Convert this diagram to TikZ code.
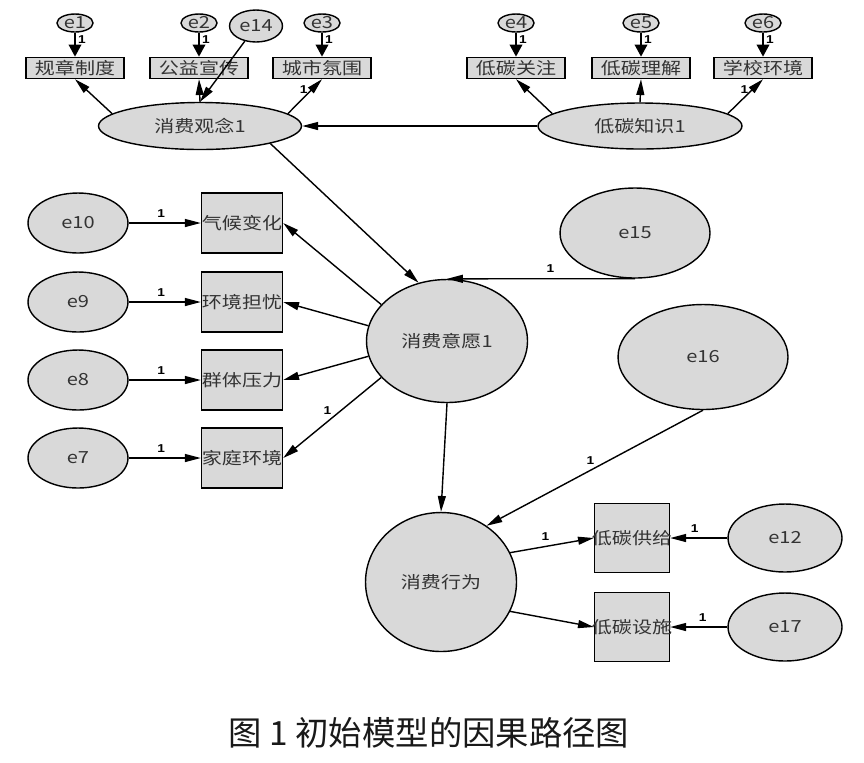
\documentclass[tikz,border=0pt]{standalone}
\usepackage{fontspec}
\newfontfamily\dgfont[FakeStretch=1.2]{Noto Sans CJK SC}
\newfontfamily\numfont[FakeStretch=1.2]{Liberation Sans}
\newfontfamily\capfont{Noto Sans CJK SC}
\usetikzlibrary{shapes.geometric,arrows.meta}

\begin{document}
\begin{tikzpicture}[x=0.02cm, y=-0.02cm,
		base/.style={draw, line width=0.8pt, fill=gray!30, text=black!80, font=\dgfont\fontsize{9.5}{11}\selectfont, inner sep=0pt},
		err/.style={base, ellipse},
		smallerr/.style={err, inner sep=-4pt, minimum width=0.72cm, minimum height=0.36cm},
		latent/.style={base, ellipse},
		obsbox/.style={base, rectangle},
		topbox/.style={obsbox, minimum width=1.96cm, minimum height=0.42cm},
		midbox/.style={obsbox, minimum width=1.62cm, minimum height=1.2cm},
		rbox/.style={obsbox, inner xsep=-2pt, minimum width=1.5cm, minimum height=1.38cm},
		arr/.style={-{Triangle[length=9pt,width=4.5pt]}, line width=0.8pt},
		fatarr/.style={-{Triangle[length=7pt,width=7pt]}, line width=1.6pt},
		lbl/.style={font=\numfont\bfseries\fontsize{6.5}{7}\selectfont, inner sep=1pt}]
	\useasboundingbox (0,0) rectangle (864,762);
	%Konsumkonzept
	\node[smallerr] (e1) at (75,23) {e1};
	\node[smallerr] (e2) at (199,23) {e2};
	\node[smallerr] (e3) at (322,23) {e3};
	\node[err, minimum width=1.06cm, minimum height=0.64cm] (e14) at (256,26) {e14};
	\node[topbox] (gz) at (75,68) {规章制度};
	\node[topbox] (gy) at (199,68) {公益宣传};
	\node[topbox] (cs) at (322,68) {城市氛围};
	\node[latent, minimum width=4.06cm, minimum height=0.94cm] (cons) at (200,126) {消费观念1};
	\draw[fatarr] (e1) -- node[lbl, right, pos=0.3] {1} (gz);
	\draw[fatarr] (e2) -- node[lbl, right, pos=0.3] {1} (gy);
	\draw[fatarr] (e3) -- node[lbl, right, pos=0.3] {1} (cs);
	\draw[arr] (cons.172) -- (gz.south);
	\draw[arr] (cons.north) -- (gy.south);
	\draw[arr] (cons.8) -- node[lbl, left=1pt, pos=0.7] {1} (cs.south);
	\draw[arr] (e14) -- (cons.north);
	%Wissen
	\node[smallerr] (e4) at (516,23) {e4};
	\node[smallerr] (e5) at (641,23) {e5};
	\node[smallerr] (e6) at (763,23) {e6};
	\node[topbox] (gzhu) at (516,68) {低碳关注};
	\node[topbox] (lj) at (641,68) {低碳理解};
	\node[topbox] (xx) at (763,68) {学校环境};
	\node[latent, minimum width=4.08cm, minimum height=0.92cm] (know) at (640,126) {低碳知识1};
	\draw[fatarr] (e4) -- node[lbl, right, pos=0.3] {1} (gzhu);
	\draw[fatarr] (e5) -- node[lbl, right, pos=0.3] {1} (lj);
	\draw[fatarr] (e6) -- node[lbl, right, pos=0.3] {1} (xx);
	\draw[arr] (know.172) -- (gzhu.south);
	\draw[arr] (know.north) -- (lj.south);
	\draw[arr] (know.8) -- node[lbl, left=1pt, pos=0.7] {1} (xx.south);
	\draw[arr] (know.west) -- (cons.east);
	%Absicht
	\node[err, minimum width=2cm, minimum height=1.2cm] (e10) at (78,223) {e10};
	\node[err, minimum width=2cm, minimum height=1.2cm] (e9) at (78,302) {e9};
	\node[err, minimum width=2cm, minimum height=1.2cm] (e8) at (78,380) {e8};
	\node[err, minimum width=2cm, minimum height=1.2cm] (e7) at (78,458) {e7};
	\node[midbox] (qh) at (242,223) {气候变化};
	\node[midbox] (hj) at (242,302) {环境担忧};
	\node[midbox] (qt) at (242,380) {群体压力};
	\node[midbox] (jt) at (242,458) {家庭环境};
	\node[latent, minimum width=3.22cm, minimum height=2.46cm] (int) at (447,341) {消费意愿1};
	\node[err, minimum width=3cm, minimum height=1.8cm] (e15) at (635,233) {e15};
	\draw[arr] (e10) -- node[lbl, above=2pt, pos=0.45] {1} (qh);
	\draw[arr] (e9) -- node[lbl, above=2pt, pos=0.45] {1} (hj);
	\draw[arr] (e8) -- node[lbl, above=2pt, pos=0.45] {1} (qt);
	\draw[arr] (e7) -- node[lbl, above=2pt, pos=0.45] {1} (jt);
	\draw[arr] (int.151) -- (qh.east);
	\draw[arr] (int.169) -- (hj.east);
	\draw[arr] (int.191) -- (qt.east);
	\draw[arr] (int.209) -- node[lbl, above=3pt, pos=0.55] {1} (jt.east);
	\draw[arr] (cons.346) -- (int.116);
	\draw[arr] (e15.south) -- node[lbl, above=2pt, pos=0.45] {1} (int.north);
	%Verhalten
	\node[err, minimum width=3.4cm, minimum height=2.1cm] (e16) at (703,357) {e16};
	\node[latent, minimum width=3.02cm, minimum height=2.78cm] (beh) at (441,582) {消费行为};
	\node[rbox] (gj) at (632,538) {低碳供给};
	\node[rbox] (ss) at (632,627) {低碳设施};
	\node[err, minimum width=2.28cm, minimum height=1.36cm] (e12) at (785,538) {e12};
	\node[err, minimum width=2.28cm, minimum height=1.36cm] (e17) at (785,627) {e17};
	\draw[arr] (int.south) -- (beh.north);
	\draw[arr] (e16.south) -- node[lbl, above=2pt, pos=0.52] {1} (beh.51);
	\draw[arr] (beh.23) -- node[lbl, above=2pt, pos=0.42] {1} (gj.west);
	\draw[arr] (beh.337) -- (ss.west);
	\draw[arr] (e12) -- node[lbl, above=2pt, pos=0.57] {1} (gj);
	\draw[arr] (e17) -- node[lbl, above=2pt, pos=0.43] {1} (ss);
	%Bildunterschrift
	\node[font=\capfont\fontsize{19}{22}\selectfont, text=black!90] (cap) at (429,733) {图 1 初始模型的因果路径图};
\end{tikzpicture}
\end{document}
